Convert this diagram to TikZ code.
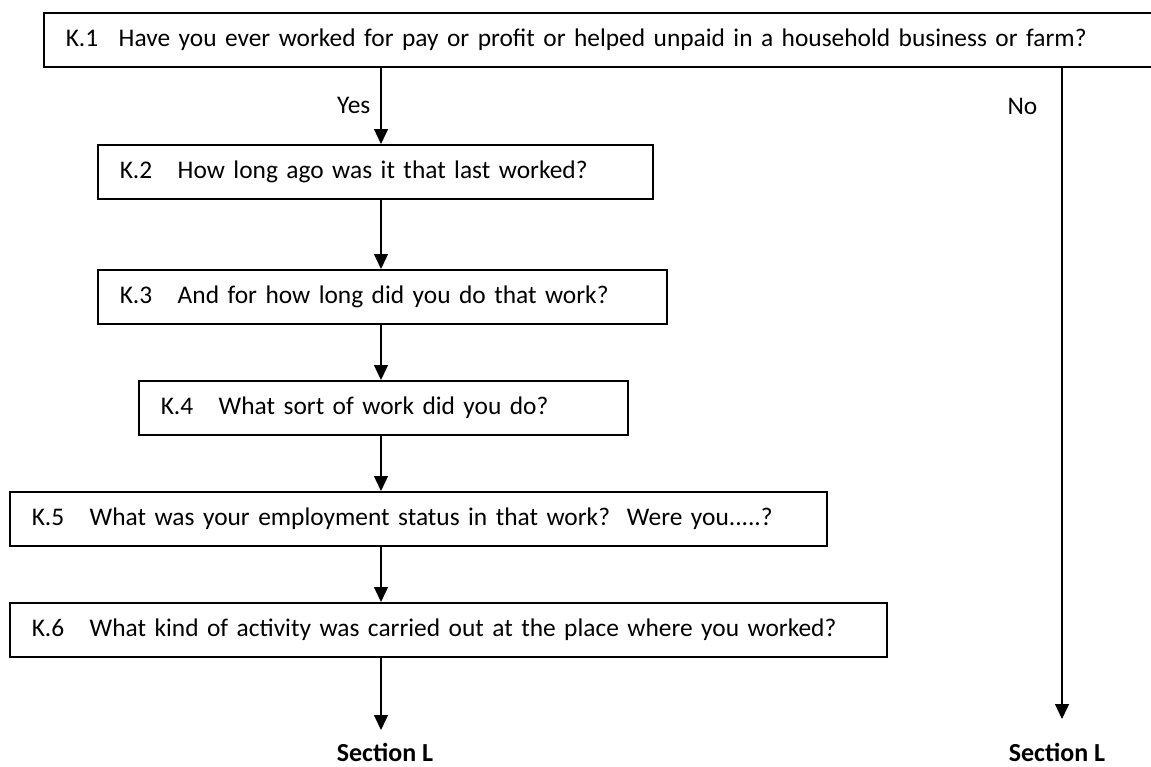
\documentclass[tikz,border=0pt]{standalone}
\usepackage{fontspec}
\setmainfont{Carlito}
\usepackage{tikz}
\usetikzlibrary{arrows.meta,positioning}
\newcommand{\kitem}[2][58pt]{\makebox[#1][l]{#2}}

\begin{document}
\begin{tikzpicture}[x=1pt, y=-1pt,
    font=\fontsize{25.4}{30}\selectfont,
    box/.style={draw=black, line width=1.5pt, anchor=north west, align=left,
      inner xsep=22pt, inner ysep=0pt, minimum height=54pt},
    arrow/.style={-{Triangle[length=15pt,width=14pt]}, draw=black, line width=1.3pt},
    branch/.style={inner sep=0pt},
    target/.style={font=\fontsize{26}{30}\selectfont\bfseries, inner sep=0pt}
  ]
    \useasboundingbox (0,0) rectangle (1151,766);
    \node[box, text width=1066pt] (k1) at (43,12) {\kitem[53pt]{K.1}Have you ever worked for pay or profit or helped unpaid in a household business or farm?};
    \node[box, text width=511pt] (k2) at (97,144) {\kitem{K.2}How long ago was it that last worked?};
    \node[box, text width=525pt] (k3) at (97,269) {\kitem{K.3}And for how long did you do that work?};
    \node[box, text width=445pt] (k4) at (138,380) {\kitem{K.4}What sort of work did you do?};
    \node[box, text width=773pt] (k5) at (9,491) {\kitem{K.5}What was your employment status in that work?\ \ Were you.....?};
    \node[box, text width=833pt] (k6) at (9,602) {\kitem{K.6}What kind of activity was carried out at the place where you worked?};
    \coordinate (colL) at (381,0);
    \coordinate (colR) at (1062,0);
    \coordinate (endL) at (381,730);
    \coordinate (endR) at (1062,719);
    \node[target] (secL) at (385,752) {Section L};
    \node[target] (secR) at (1057,752) {Section L};
    \draw[arrow] (k1.south -| colL) -- node[branch, left=10pt] {Yes} (k2.north -| colL);
    \draw[arrow] (k2.south -| colL) -- (k3.north -| colL);
    \draw[arrow] (k3.south -| colL) -- (k4.north -| colL);
    \draw[arrow] (k4.south -| colL) -- (k5.north -| colL);
    \draw[arrow] (k5.south -| colL) -- (k6.north -| colL);
    \draw[arrow] (k6.south -| colL) -- (endL);
    \draw[arrow] (k1.south -| colR) -- node[branch, pos=0.06, left=24pt] {No} (endR);
  \end{tikzpicture}
\end{document}
